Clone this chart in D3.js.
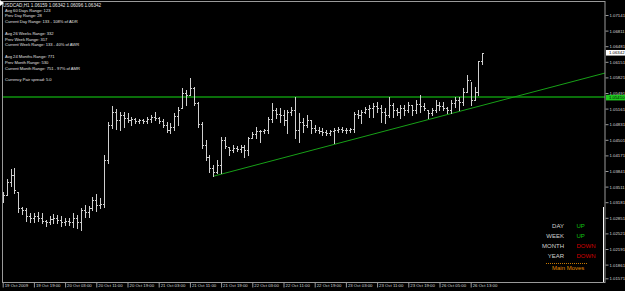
<!DOCTYPE html>
<html>
<head>
<meta charset="utf-8">
<script src="https://d3js.org/d3.v7.min.js"></script>
<style>
  body { margin: 0; background: #000; }
  svg { display: block; }
  text { font-family: Arial, "Liberation Sans", sans-serif; }
</style>
</head>
<body>
<svg id="chart" width="625" height="291"></svg>
<script>
// USDCAD H1 bars, 19 Oct 2009 -> 26 Oct 2009
var opens = [
  1.0323, 1.0333, 1.0361, 1.0376, 1.0340, 1.0306, 1.0302, 1.0289, 1.0285, 1.0289,
  1.0285, 1.0278, 1.0276, 1.0283, 1.0285, 1.0280, 1.0276, 1.0278, 1.0276, 1.0285,
  1.0276, 1.0302, 1.0297, 1.0306, 1.0323, 1.0312, 1.0314, 1.0407, 1.0481, 1.0509,
  1.0492, 1.0502, 1.0496, 1.0492, 1.0494, 1.0490, 1.0492, 1.0490, 1.0494, 1.0498,
  1.0496, 1.0490, 1.0481, 1.0471, 1.0477, 1.0500, 1.0517, 1.0549, 1.0545, 1.0560,
  1.0528, 1.0483, 1.0439, 1.0414, 1.0390, 1.0382, 1.0397, 1.0450, 1.0435, 1.0428,
  1.0433, 1.0431, 1.0435, 1.0428, 1.0454, 1.0462, 1.0469, 1.0469, 1.0471, 1.0494,
  1.0513, 1.0505, 1.0502, 1.0492, 1.0509, 1.0513, 1.0471, 1.0488, 1.0481, 1.0492,
  1.0475, 1.0471, 1.0469, 1.0467, 1.0464, 1.0469, 1.0471, 1.0473, 1.0471, 1.0471,
  1.0473, 1.0505, 1.0502, 1.0509, 1.0515, 1.0517, 1.0522, 1.0517, 1.0509, 1.0502,
  1.0524, 1.0513, 1.0509, 1.0517, 1.0513, 1.0524, 1.0513, 1.0526, 1.0522, 1.0513,
  1.0507, 1.0513, 1.0524, 1.0522, 1.0517, 1.0513, 1.0528, 1.0534, 1.0530, 1.0551,
  1.0577, 1.0534, 1.0551, 1.06159
];
var highs = [
  1.0340, 1.0367, 1.0388, 1.0390, 1.0340, 1.0308, 1.0306, 1.0295, 1.0295, 1.0297,
  1.0295, 1.0280, 1.0289, 1.0293, 1.0291, 1.0289, 1.0285, 1.0285, 1.0295, 1.0291,
  1.0306, 1.0312, 1.0310, 1.0329, 1.0335, 1.0327, 1.0418, 1.0488, 1.0522, 1.0515,
  1.0509, 1.0509, 1.0507, 1.0498, 1.0496, 1.0494, 1.0494, 1.0498, 1.0502, 1.0509,
  1.0498, 1.0494, 1.0488, 1.0486, 1.0507, 1.0519, 1.0560, 1.0555, 1.0581, 1.0562,
  1.0530, 1.0488, 1.0450, 1.0418, 1.0397, 1.0407, 1.0456, 1.0456, 1.0435, 1.0439,
  1.0437, 1.0439, 1.0439, 1.0456, 1.0467, 1.0477, 1.0471, 1.0473, 1.0498, 1.0528,
  1.0517, 1.0517, 1.0513, 1.0513, 1.0519, 1.0541, 1.0507, 1.0496, 1.0502, 1.0492,
  1.0481, 1.0477, 1.0475, 1.0471, 1.0471, 1.0475, 1.0477, 1.0477, 1.0475, 1.0475,
  1.0509, 1.0513, 1.0513, 1.0519, 1.0524, 1.0528, 1.0530, 1.0524, 1.0517, 1.0541,
  1.0528, 1.0517, 1.0524, 1.0524, 1.0530, 1.0524, 1.0534, 1.0545, 1.0528, 1.0513,
  1.0517, 1.0534, 1.0530, 1.0530, 1.0519, 1.0534, 1.0541, 1.0541, 1.0560, 1.0587,
  1.0572, 1.0562, 1.0617, 1.06342
];
var lows = [
  1.0318, 1.0333, 1.0352, 1.0338, 1.0297, 1.0293, 1.0278, 1.0276, 1.0276, 1.0278,
  1.0274, 1.0268, 1.0272, 1.0274, 1.0274, 1.0268, 1.0270, 1.0270, 1.0266, 1.0263,
  1.0259, 1.0287, 1.0287, 1.0302, 1.0299, 1.0306, 1.0308, 1.0401, 1.0475, 1.0473,
  1.0471, 1.0477, 1.0488, 1.0481, 1.0486, 1.0486, 1.0486, 1.0486, 1.0488, 1.0492,
  1.0486, 1.0477, 1.0467, 1.0464, 1.0471, 1.0481, 1.0517, 1.0524, 1.0545, 1.0524,
  1.0477, 1.0433, 1.0407, 1.0382, 1.0373, 1.0380, 1.0380, 1.0433, 1.0418, 1.0424,
  1.0426, 1.0424, 1.0414, 1.0418, 1.0454, 1.0454, 1.0445, 1.0464, 1.0464, 1.0488,
  1.0496, 1.0488, 1.0481, 1.0464, 1.0502, 1.0454, 1.0445, 1.0467, 1.0477, 1.0464,
  1.0467, 1.0464, 1.0460, 1.0460, 1.0460, 1.0443, 1.0467, 1.0467, 1.0464, 1.0467,
  1.0467, 1.0496, 1.0486, 1.0507, 1.0498, 1.0498, 1.0509, 1.0488, 1.0486, 1.0498,
  1.0498, 1.0502, 1.0496, 1.0502, 1.0509, 1.0502, 1.0507, 1.0509, 1.0513, 1.0496,
  1.0502, 1.0509, 1.0513, 1.0513, 1.0507, 1.0507, 1.0519, 1.0513, 1.0524, 1.0551,
  1.0524, 1.0534, 1.0545, 1.06096
];
var closes = [
  1.0333, 1.0361, 1.0376, 1.0344, 1.0306, 1.0302, 1.0289, 1.0285, 1.0289, 1.0285,
  1.0278, 1.0276, 1.0283, 1.0285, 1.0280, 1.0276, 1.0278, 1.0276, 1.0285, 1.0276,
  1.0302, 1.0297, 1.0306, 1.0323, 1.0312, 1.0314, 1.0407, 1.0481, 1.0509, 1.0492,
  1.0502, 1.0496, 1.0492, 1.0494, 1.0490, 1.0492, 1.0490, 1.0494, 1.0498, 1.0496,
  1.0490, 1.0481, 1.0471, 1.0477, 1.0500, 1.0513, 1.0549, 1.0545, 1.0560, 1.0528,
  1.0483, 1.0439, 1.0414, 1.0390, 1.0382, 1.0397, 1.0450, 1.0437, 1.0428, 1.0433,
  1.0431, 1.0435, 1.0428, 1.0454, 1.0462, 1.0469, 1.0469, 1.0471, 1.0494, 1.0513,
  1.0505, 1.0502, 1.0492, 1.0509, 1.0513, 1.0471, 1.0488, 1.0481, 1.0492, 1.0475,
  1.0471, 1.0469, 1.0467, 1.0464, 1.0469, 1.0471, 1.0473, 1.0471, 1.0471, 1.0473,
  1.0505, 1.0502, 1.0509, 1.0515, 1.0517, 1.0522, 1.0517, 1.0509, 1.0502, 1.0524,
  1.0513, 1.0509, 1.0517, 1.0513, 1.0524, 1.0513, 1.0526, 1.0522, 1.0517, 1.0507,
  1.0513, 1.0524, 1.0522, 1.0517, 1.0513, 1.0528, 1.0534, 1.0530, 1.0551, 1.0577,
  1.0534, 1.0551, 1.06159, 1.06342
];

// time axis labels, one every 8 bars
var timeLabels = ["19 Oct 2009", "19 Oct 19:00", "20 Oct 03:00", "20 Oct 11:00", "20 Oct 19:00",
  "21 Oct 03:00", "21 Oct 11:00", "21 Oct 19:00", "22 Oct 03:00", "22 Oct 11:00", "22 Oct 19:00",
  "23 Oct 03:00", "23 Oct 11:00", "23 Oct 19:00", "26 Oct 05:00", "26 Oct 13:00"];
var labelEvery = 8;

var priceTicks = [1.07141, 1.06811, 1.06481, 1.06151, 1.05821, 1.05491, 1.05161, 1.04831, 1.04501,
  1.04171, 1.03841, 1.03511, 1.03181, 1.02851, 1.02521, 1.02191, 1.01861, 1.01571];

var levelPrice = 1.05410;      // horizontal line
var trendIdx = [54, 123];      // trend line anchors (bar index)
var trendPrice = [1.0373, 1.0523];
var lastPrice = 1.06342;

var titleText = "USDCAD,H1  1.06159 1.06342 1.06096 1.06342";
var infoLines = ["Avg 60 Days Range: 123", "Prev Day Range: 28", "Current Day Range: 133 - 108% of ADR", "",
  "Avg 26 Weeks Range: 332", "Prev Week Range: 317", "Current Week Range: 133 - 40% of AWR", "",
  "Avg 24 Months Range: 771", "Prev Month Range: 530", "Current Month Range: 751 - 97% of AMR", "",
  "Currency Pair spread: 5.0"];

var moveNames = ["DAY", "WEEK", "MONTH", "YEAR"];
var moveDirs = ["UP", "UP", "DOWN", "DOWN"];

var svg = d3.select("#chart");
svg.append("rect").attr("width", 625).attr("height", 291).attr("fill", "#000");

var pLeft = 3, pRight = 605, pTop = 1, pBottom = 282;

var x = d3.scaleLinear().domain([0, opens.length - 1]).range([2.7, 482.4]);
var y = d3.scaleLinear().domain([1.01531, 1.07141]).range([280.2, 15]);

function px(v) { return Math.round(v) + 0.5; }

svg.append("clipPath").attr("id", "plotclip")
  .append("rect").attr("x", pLeft).attr("y", pTop).attr("width", pRight - pLeft).attr("height", pBottom - pTop);

var plot = svg.append("g").attr("clip-path", "url(#plotclip)");

// horizontal level
plot.append("line")
  .attr("x1", pLeft).attr("x2", pRight)
  .attr("y1", Math.round(y(levelPrice))).attr("y2", Math.round(y(levelPrice)))
  .attr("stroke", "#0a6e0a").attr("stroke-width", 2).attr("shape-rendering", "crispEdges");

// trend line (ray to the right)
var slope = (trendPrice[1] - trendPrice[0]) / (trendIdx[1] - trendIdx[0]);
var endIdx = x.invert(pRight);
plot.append("line")
  .attr("x1", x(trendIdx[0])).attr("y1", y(trendPrice[0]))
  .attr("x2", x(endIdx)).attr("y2", y(trendPrice[0] + slope * (endIdx - trendIdx[0])))
  .attr("stroke", "#17a017").attr("stroke-width", 1);

// OHLC bars
var bars = plot.selectAll("g.bar").data(d3.range(opens.length)).enter().append("g").attr("class", "bar")
  .attr("stroke", "#cfcfcf").attr("stroke-width", 1).attr("shape-rendering", "crispEdges");
bars.append("line")
  .attr("x1", function(i) { return px(x(i)); }).attr("x2", function(i) { return px(x(i)); })
  .attr("y1", function(i) { return Math.round(y(highs[i])); })
  .attr("y2", function(i) { return Math.round(y(lows[i])) + 1; });
bars.append("line")
  .attr("x1", function(i) { return Math.round(x(i)) - 1; }).attr("x2", function(i) { return Math.round(x(i)); })
  .attr("y1", function(i) { return px(y(opens[i])); }).attr("y2", function(i) { return px(y(opens[i])); });
bars.append("line")
  .attr("x1", function(i) { return Math.round(x(i)) + 1; }).attr("x2", function(i) { return Math.round(x(i)) + 2; })
  .attr("y1", function(i) { return px(y(closes[i])); }).attr("y2", function(i) { return px(y(closes[i])); });

// frame
svg.append("rect")
  .attr("x", pLeft - 0.5).attr("y", pTop + 0.5)
  .attr("width", pRight - pLeft + 0.5).attr("height", pBottom - pTop)
  .attr("fill", "none").attr("stroke", "#9a9a9a").attr("stroke-width", 1);

// marker at right edge
svg.append("line").attr("x1", 603.5).attr("x2", 603.5).attr("y1", 207).attr("y2", pBottom)
  .attr("stroke", "#ffffff").attr("stroke-width", 1);

// price axis
var yAxis = d3.axisRight(y).tickValues(priceTicks).tickSize(3).tickPadding(1)
  .tickFormat(function(d) { return d.toFixed(5); });
var ya = svg.append("g").attr("transform", "translate(" + (pRight + 0.5) + ",0)").call(yAxis);
ya.select(".domain").remove();
ya.selectAll("line").attr("stroke", "#9a9a9a");
ya.selectAll("text").attr("fill", "#d8d8d8").attr("font-size", "4.3px").attr("dy", "0.35em");

function priceBox(p, fill, txt, dy) {
  var cy = y(p) + dy;
  svg.append("rect").attr("x", pRight + 1).attr("y", cy - 2.8).attr("width", 20).attr("height", 5.6).attr("fill", fill);
  svg.append("text").attr("x", pRight + 4).attr("y", cy).attr("dy", "0.35em")
    .attr("font-size", "4.3px").attr("fill", txt).text(p.toFixed(5));
}
priceBox(lastPrice, "#ffffff", "#000000", 0);
priceBox(levelPrice, "#1fc81f", "#000000", 0.8);

// time axis
var tickIdx = timeLabels.map(function(d, k) { return k * labelEvery; });
var xAxis = d3.axisBottom(x).tickValues(tickIdx).tickSize(5).tickFormat(function(d, k) { return timeLabels[k]; });
var xa = svg.append("g").attr("transform", "translate(0," + (pBottom + 0.5) + ")").call(xAxis);
xa.select(".domain").remove();
xa.selectAll("line").attr("stroke", "#9a9a9a");
xa.selectAll("text").attr("fill", "#d8d8d8").attr("font-size", "4.3px")
  .attr("text-anchor", "start").attr("x", 1.5).attr("y", 3).attr("dy", "0.35em");

// info text
svg.append("path").attr("d", "M0,0L4,3L0,6Z").attr("fill", "#ffffff");
svg.append("text").attr("x", 3).attr("y", 6.5).attr("font-size", "4.6px").attr("fill", "#e6e6e6").text(titleText);
svg.selectAll("text.info").data(infoLines).enter().append("text").attr("class", "info")
  .attr("x", 5).attr("y", function(d, i) { return 11.5 + i * 5.83; })
  .attr("font-size", "4.1px").attr("fill", "#e0e0e0").text(function(d) { return d; });

// main moves panel
var mv = svg.append("g");
mv.selectAll("text.name").data(moveNames).enter().append("text").attr("class", "name")
  .attr("x", 564).attr("y", function(d, i) { return 228.2 + i * 9.9; })
  .attr("text-anchor", "end").attr("font-size", "6px").attr("fill", "#d0d0d0").text(function(d) { return d; });
mv.selectAll("text.dir").data(moveDirs).enter().append("text").attr("class", "dir")
  .attr("x", 576.5).attr("y", function(d, i) { return 228.2 + i * 9.9; })
  .attr("font-size", "6px").attr("fill", function(d) { return d === "UP" ? "#10c010" : "#d00000"; })
  .text(function(d) { return d; });
mv.append("line").attr("x1", 546).attr("x2", 588).attr("y1", 263.5).attr("y2", 263.5)
  .attr("stroke", "#c87800").attr("stroke-dasharray", "1,1");
mv.append("text").attr("x", 552).attr("y", 269.6).attr("font-size", "6px").attr("fill", "#e08a00").text("Main Moves");
</script>
</body>
</html>
